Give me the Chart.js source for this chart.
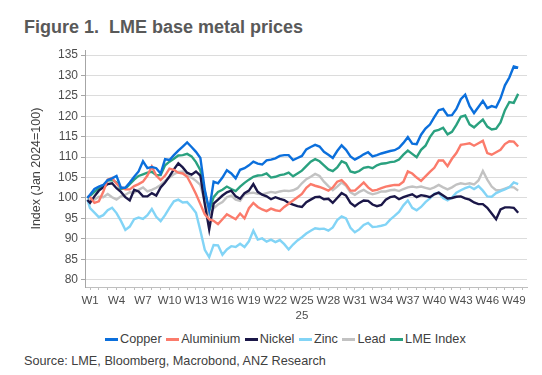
<!DOCTYPE html>
<html>
<head>
<meta charset="utf-8">
<script src="https://cdn.jsdelivr.net/npm/chart.js@4.4.1/dist/chart.umd.min.js"></script>
<style>
body { margin: 0; background: #fff; font-family: "Liberation Sans", Arial, sans-serif; }
#wrap { position: relative; width: 542px; height: 375px; overflow: hidden; }
#title { position: absolute; left: 24px; top: 18px; font-size: 18px; line-height: 18px; font-weight: bold; color: #595959; white-space: nowrap; }
#chartBox { position: absolute; left: 0; top: 40px; width: 542px; height: 285px; }
#legend { position: absolute; left: 105px; top: 333px; display: flex; font-size: 12.7px; line-height: 13px; color: #404040; white-space: nowrap; }
#legend .item { display: flex; align-items: center; margin-right: 4.5px; }
#legend .swatch { width: 13px; height: 2.5px; margin-right: 2px; }
#source { position: absolute; left: 24px; top: 355px; font-size: 12.7px; line-height: 13px; color: #404040; white-space: nowrap; }
</style>
</head>
<body>
<div id="wrap">
  <div id="title">Figure 1.&nbsp; LME base metal prices</div>
  <div id="chartBox"><canvas id="myChart"></canvas></div>
  <div id="legend"></div>
  <div id="source">Source: LME, Bloomberg, Macrobond, ANZ Research</div>
</div>
<script>
// week of 2025 for each reading (roughly twice a week)
var weeks = [0.7, 1, 1.5, 2, 2.5, 3, 3.5, 4, 4.5, 5, 5.5, 6, 6.5, 7, 7.5, 8, 8.5, 9, 9.5, 10, 10.5, 11, 11.5, 12, 12.5, 13,
    13.5, 14, 14.5, 15, 15.5, 16, 16.5, 17, 17.5, 18, 18.5, 19, 19.5, 20, 20.5, 21, 21.5, 22, 22.5, 23, 23.5, 24, 24.5, 25,
    25.5, 26, 26.5, 27, 27.5, 28, 28.5, 29, 29.5, 30, 30.5, 31, 31.5, 32, 32.5, 33, 33.5, 34, 34.5, 35, 35.5, 36, 36.5, 37, 37.5,
    38, 38.5, 39, 39.5, 40, 40.5, 41, 41.5, 42, 42.5, 43, 43.5, 44, 44.5, 45, 45.5, 46, 46.5, 47, 47.5, 48, 48.5, 49, 49.5];

var copper = [100, 100.8, 102.2, 102.8, 103.2, 104.4, 104.8, 105.4, 102.5, 102.5, 103.8, 105.2, 106.5, 109.0, 107.3, 107.6, 107.3, 106, 109.5, 109.3, 110.5, 111.6, 112.6, 113.6, 112.5, 111.3,
    109.8, 102, 97, 104, 103.6, 105, 106.8, 106, 104.8, 106.9, 107.3, 108, 108.9, 108.4, 108.2, 109.2, 109.4, 109.7, 110.3, 110.5, 110.5, 109.3, 109.8, 110.3,
    111.9, 112.5, 113, 112.6, 111.3, 110.6, 109.8, 111.5, 112.9, 111.8, 110.2, 109.4, 110, 110.7, 111.2, 110.2, 110.5, 110.9, 111.2, 111.5, 111.7, 112.3, 113.5, 114.9, 113.3,
    113.2, 115.5, 117, 118, 119.8, 121.5, 121.8, 120.2, 120.3, 121.8, 124.2, 125.3, 122.5, 120.8, 122.3, 123.8, 122, 122.5, 122.2, 124.4, 127.6, 129.5, 132.2, 131.9];

var aluminium = [100.3, 100.2, 98.8, 99.2, 101.5, 104.5, 104.9, 103.5, 102.6, 102.1, 102.1, 102.9, 103.4, 104, 105.5, 107.7, 105.5, 104.4, 105.5, 107.2, 106.9, 106.2, 106, 105.2, 103.2, 101,
    98.5, 96, 94.8, 94.4, 93.6, 94.8, 96, 95.4, 94.8, 96.2, 95, 97.5, 98.8, 97.8, 97.2, 96.8, 97.4, 97, 96.8, 97.8, 98.6, 99.4, 100.2, 101,
    102.5, 103.4, 103, 102.7, 102.3, 101.8, 102.6, 104, 104.4, 103.3, 101.8, 101.8, 102.8, 103.8, 102.6, 101.8, 102, 102.4, 102.8, 103, 103.2, 103.2, 104, 106.5, 106,
    105, 104.2, 105.3, 106.4, 107.4, 109.2, 109.2, 107.8, 109.6, 111, 113, 113.2, 113.4, 112.8, 113.4, 114, 111, 110.6, 111.2, 111.8, 113.2, 113.9, 113.8, 112.6];

var nickel = [99.5, 98.8, 100.4, 101.8, 102.6, 103.4, 103.6, 102.4, 101.5, 100.2, 99.4, 102, 101.6, 100.4, 100.4, 101.2, 100.6, 102.6, 103.8, 105.3, 107, 108.5, 107.5, 106.2, 105.7, 106.5,
    105.5, 98.5, 92.3, 98.6, 99.6, 100.6, 101.4, 101.8, 100.4, 99.8, 101.2, 101.8, 103.4, 101.5, 100.8, 100.4, 99.7, 100.2, 99.8, 99.5, 98.8, 98.4, 98, 97.8,
    99, 99.6, 100.2, 100.3, 99.7, 99.8, 98.8, 100, 101.2, 100.6, 98.8, 98, 98.8, 99.4, 99.3, 98.4, 98, 98.3, 99.6, 100.2, 100.4, 99.7, 100.2, 100.6, 100.9,
    100.2, 100.7, 100.5, 100.2, 100.9, 101.3, 100.6, 99.9, 100, 100.3, 100.4, 99.9, 99.6, 98.9, 98.5, 98.5, 97.6, 96.2, 94.8, 97.2, 97.7, 97.7, 97.6, 96.4];

var zinc = [99.6, 97.5, 96.4, 95.3, 95.8, 97, 97.6, 96.3, 94.4, 92.2, 93, 94.8, 95.2, 94.9, 95.8, 97.3, 95.4, 94.3, 95.8, 97.6, 99.2, 99.6, 98.9, 99, 97.8, 96.4,
    92, 87.3, 85.5, 88.5, 88.4, 86.1, 87.4, 88.2, 88, 88.8, 88, 89.4, 92, 89.8, 90.1, 89.3, 89.8, 89.2, 89.7, 88.7, 87.4, 88.6, 89.6, 90.4,
    91.3, 92, 92.6, 92.4, 92.5, 92, 92.8, 94.6, 95.5, 95, 92.7, 91.6, 92.3, 93.4, 93.9, 92.9, 93, 93.2, 93.5, 94.7, 95.6, 96.6, 98.2, 99.4, 97.6,
    97, 97.8, 99, 99.9, 101, 101.3, 100, 99.4, 100.1, 101.3, 101.9, 102.4, 102.8, 102.2, 102.9, 101.8, 100.4, 100.3, 101.2, 101.7, 102.1, 102.6, 103.8, 103.4];

var lead = [99.6, 99.4, 99.6, 100.3, 100.2, 101, 100.2, 99.6, 100.4, 100.8, 101.4, 101.3, 102, 102.6, 101.6, 102, 102.5, 103.2, 104.2, 105, 105.8, 106.4, 106.5, 105.5, 105, 104.2,
    103.2, 99, 95.8, 97.5, 98.4, 99, 100.2, 100.6, 99.6, 99.3, 100.9, 101.2, 101.3, 101, 100.9, 101.2, 101.5, 101.3, 101.6, 101.8, 101.7, 101.9, 102.4, 103.6,
    104.6, 105.2, 105.9, 105.4, 104, 102.9, 101.9, 102.8, 103.8, 103, 101.4, 100.8, 101.5, 102, 101.3, 100.9, 101.2, 101.6, 101.6, 101.9, 102, 101.7, 102.2, 102.6, 102.8,
    102.6, 102.8, 102.5, 102.2, 102.6, 103.2, 102.6, 102.1, 102.6, 103.3, 103.6, 103.4, 103.6, 103.3, 104.3, 106.6, 104.5, 102.8, 101.9, 101.9, 102.3, 102.7, 102.6, 101.8];

var lmeIndex = [100, 100.5, 101.5, 102.4, 102.8, 104.3, 104.4, 103.8, 102.2, 102.3, 103.4, 104.5, 105.4, 105.8, 106.2, 106.4, 105.6, 105.6, 108, 108.9, 109.6, 110.4, 110.5, 110.8, 110.2, 108.8,
    106.8, 101.5, 96.8, 100.2, 101.5, 102, 102.8, 102.2, 101.7, 102.8, 103.7, 104.5, 105.2, 105.5, 105.6, 106, 105, 105.2, 105.6, 105.8, 106.2, 105.3, 106, 106.7,
    107.8, 108.9, 109.5, 109, 108, 107, 106.6, 107.5, 109, 108.5, 106.5, 106.2, 106.6, 107.4, 107.6, 107.3, 108, 108.4, 108.5, 108.8, 108.9, 109.4, 110.6, 111.6, 110.8,
    110, 111.8, 112.8, 114.9, 116.4, 116.7, 117.2, 115.6, 116.2, 117.9, 119.9, 120.2, 118, 117.3, 118.3, 119.2, 117.5, 116.8, 117, 118.5, 121.5, 123.5, 123.3, 125.5];

var seriesNames = ['Copper', 'Aluminium', 'Nickel', 'Zinc', 'Lead', 'LME Index'];
var seriesValues = [copper, aluminium, nickel, zinc, lead, lmeIndex];
var seriesColors = ['#0b6fdc', '#fb7b6b', '#1b1748', '#82d4f6', '#c2c2c2', '#2aa17f'];

var yTicks = [80, 85, 90, 95, 100, 105, 110, 115, 120, 125, 130, 135];
var xTickWeeks = [1, 2, 3, 4, 5, 6, 7, 8, 9, 10, 11, 12, 13, 14, 15, 16, 17, 18, 19, 20, 21, 22, 23, 24, 25,
    26, 27, 28, 29, 30, 31, 32, 33, 34, 35, 36, 37, 38, 39, 40, 41, 42, 43, 44, 45, 46, 47, 48, 49, 50];
var xTickLabels = ['W1', 'W4', 'W7', 'W10', 'W13', 'W16', 'W19', 'W22', 'W25', 'W28', 'W31', 'W34', 'W37', 'W40', 'W43', 'W46', 'W49'];
var yearLabel = '25';

var datasets = seriesNames.map(function (name, k) {
    return {
        label: name,
        data: weeks.map(function (w, i) { return { x: w, y: seriesValues[k][i] }; }),
        borderColor: seriesColors[k],
        backgroundColor: seriesColors[k],
        borderWidth: 2.4,
        pointRadius: 0,
        tension: 0
    };
});

var ctx = document.getElementById('myChart').getContext('2d');
var myChart = new Chart(ctx, {
    type: 'line',
    data: { datasets: datasets },
    options: {
        responsive: true,
        maintainAspectRatio: false,
        animation: false,
        layout: { padding: { top: 8, right: 15, left: 0, bottom: 0 } },
        plugins: {
            legend: { display: false },
            tooltip: { enabled: false }
        },
        scales: {
            x: {
                type: 'linear',
                min: 0.43,
                max: 50.5,
                afterBuildTicks: function (scale) {
                    scale.ticks = xTickWeeks.map(function (v) { return { value: v }; });
                },
                afterFit: function (scale) { scale.height = 38; },
                grid: { drawOnChartArea: false, tickLength: 3, tickColor: '#bfbfbf' },
                border: { color: '#bfbfbf' },
                ticks: {
                    autoSkip: false,
                    maxRotation: 0,
                    minRotation: 0,
                    padding: 3,
                    color: '#4d4d4d',
                    font: { family: 'Liberation Sans', size: 11.5, lineHeight: 1.35 },
                    callback: function (v) {
                        if ((v - 1) % 3 !== 0) return '';
                        var lab = xTickLabels[(v - 1) / 3];
                        return lab === 'W25' ? [lab, yearLabel] : lab;
                    }
                }
            },
            y: {
                min: 78.2,
                max: 136.2,
                afterBuildTicks: function (scale) {
                    scale.ticks = yTicks.map(function (v) { return { value: v }; });
                },
                afterFit: function (scale) { scale.width = 85; },
                grid: { color: '#dcdcdc', tickColor: '#a6a6a6', tickLength: 4 },
                border: { color: '#a6a6a6' },
                ticks: { padding: 3, color: '#4d4d4d', font: { family: 'Liberation Sans', size: 12 } },
                title: {
                    display: true,
                    text: 'Index (Jan 2024=100)',
                    color: '#404040',
                    font: { family: 'Liberation Sans', size: 12.5 },
                    padding: { top: 29, bottom: 0 }
                }
            }
        }
    }
});

// legend built from the same names and colours
var legend = document.getElementById('legend');
seriesNames.forEach(function (name, k) {
    var item = document.createElement('div');
    item.className = 'item';
    var sw = document.createElement('span');
    sw.className = 'swatch';
    sw.style.background = seriesColors[k];
    var tx = document.createElement('span');
    tx.textContent = name;
    item.appendChild(sw);
    item.appendChild(tx);
    legend.appendChild(item);
});
</script>
</body>
</html>
